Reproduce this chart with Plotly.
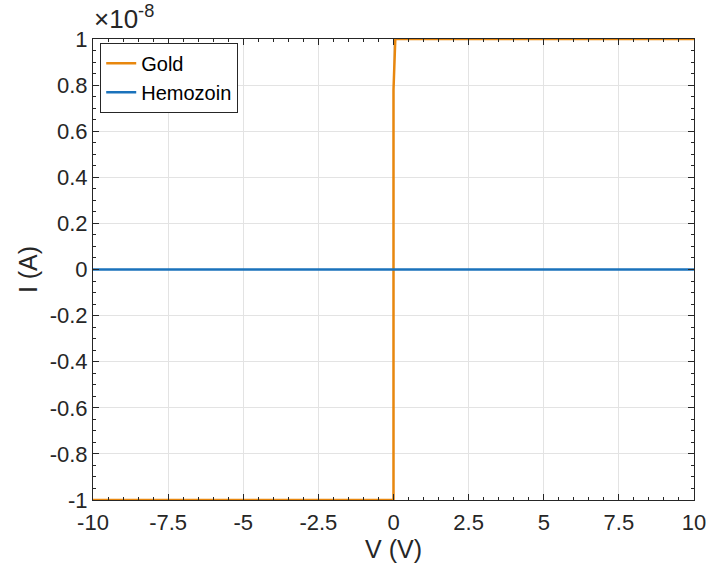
import plotly.graph_objects as go

# Data (current in units of 1e-8 A)
gold_v = [-10, -7.5, -5, -2.5, -0.05, 0.0, 0.0, 0.03, 0.06, 2.5, 5, 7.5, 10]
gold_i = [-1.0, -1.0, -1.0, -1.0, -1.0, -1.0, 0.78, 0.95, 1.0, 1.0, 1.0, 1.0, 1.0]
hemo_v = [-10, -7.5, -5, -2.5, 0, 2.5, 5, 7.5, 10]
hemo_i = [0.0, 0.0, 0.0, 0.0, 0.0, 0.0, 0.0, 0.0, 0.0]

x_ticks = [-10, -7.5, -5, -2.5, 0, 2.5, 5, 7.5, 10]
x_labels = ["-10", "-7.5", "-5", "-2.5", "0", "2.5", "5", "7.5", "10"]
y_ticks = [-1, -0.8, -0.6, -0.4, -0.2, 0, 0.2, 0.4, 0.6, 0.8, 1]
y_labels = ["-1", "-0.8", "-0.6", "-0.4", "-0.2", "0", "0.2", "0.4", "0.6", "0.8", "1"]

FONT = "Liberation Sans, Arial, Helvetica, sans-serif"

fig = go.Figure()
fig.add_trace(go.Scatter(x=gold_v, y=gold_i, mode="lines", name="Gold",
                         line=dict(color="#E8870E", width=2.5)))
fig.add_trace(go.Scatter(x=hemo_v, y=hemo_i, mode="lines", name="Hemozoin",
                         line=dict(color="#1A72BB", width=2.5)))

axis_common = dict(
    showline=True, linecolor="#262626", linewidth=1, mirror="ticks",
    ticks="inside", ticklen=6, tickcolor="#262626",
    showgrid=True, gridcolor="#E3E3E3", gridwidth=1,
    zeroline=False, automargin=False,
    tickfont=dict(family=FONT, size=22, color="#262626"),
)

fig.update_xaxes(**axis_common, range=[-10, 10], tickvals=x_ticks, ticktext=x_labels,
                 ticklabelstandoff=3,
                 minor=dict(dtick=0.5, ticks="inside", ticklen=3, tickcolor="#262626", showgrid=False),
                 title=dict(text="V (V)", font=dict(family=FONT, size=25, color="#262626"), standoff=0))
fig.update_yaxes(**axis_common, range=[-1, 1], tickvals=y_ticks, ticktext=y_labels,
                 minor=dict(dtick=0.05, ticks="inside", ticklen=3, tickcolor="#262626", showgrid=False),
                 title=dict(text="I (A)", font=dict(family=FONT, size=25, color="#262626"), standoff=4))

fig.add_annotation(text="×10<sup>-8</sup>", xref="paper", yref="paper", x=0, y=1,
                   xanchor="left", yanchor="bottom", yshift=3, xshift=-1, showarrow=False,
                   font=dict(family=FONT, size=26, color="#262626"))

fig.update_layout(
    width=710, height=564,
    margin=dict(l=93, r=16, t=39, b=64, autoexpand=False),
    paper_bgcolor="white", plot_bgcolor="white",
    showlegend=True,
    legend=dict(x=0.012, y=0.992, xanchor="left", yanchor="top",
                bgcolor="white", bordercolor="#262626", borderwidth=1,
                font=dict(family=FONT, size=20, color="black"),
                tracegroupgap=0, itemwidth=30),
)

fig.write_html("out.html")
